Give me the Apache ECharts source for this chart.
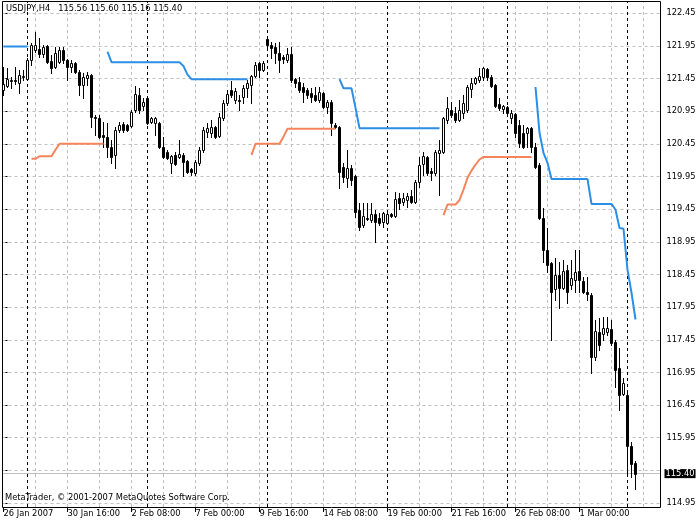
<!DOCTYPE html>
<html><head><meta charset="utf-8">
<script src="https://cdn.jsdelivr.net/npm/echarts@6/dist/echarts.min.js"></script>
<style>html,body{margin:0;padding:0;background:#fff}#c{width:700px;height:525px}</style>
</head><body><div id="c"></div>
<script>
const symbolTitle = 'USDJPY,H4   115.56 115.60 115.16 115.40';
const copyright = 'MetaTrader, \u00a9 2001-2007 MetaQuotes Software Corp.';
const timeLabels = ['26 Jan 2007','30 Jan 16:00','2 Feb 08:00','7 Feb 00:00','9 Feb 16:00','14 Feb 08:00','19 Feb 00:00','21 Feb 16:00','26 Feb 08:00','1 Mar 00:00'];
const timeLabelBars = [0,16,32,48,64,80,96,112,128,144];
const gridBars = [8,16,24,32,40,48,56,64,72,80,88,96,104,112,120,128,136,144,152,160];
const weekStartBars = [6,36,66,96,126,156];
const priceTicks = [114.95,115.45,115.95,116.45,116.95,117.45,117.95,118.45,118.95,119.45,119.95,120.45,120.95,121.45,121.95,122.45];
const priceLabels = [114.95,115.95,116.45,116.95,117.45,117.95,118.45,118.95,119.45,119.95,120.45,120.95,121.45,121.95,122.45];
const bidPrice = 115.40;

const opens = [121.28,121.34,121.43,121.43,121.38,121.48,121.44,121.74,121.89,121.90,121.83,121.95,121.72,121.63,121.71,121.89,121.74,121.63,121.69,121.55,121.35,121.46,121.51,120.86,120.85,120.59,120.56,120.40,120.28,120.66,120.76,120.74,120.73,120.97,121.20,121.03,121.15,120.79,120.77,120.77,120.40,120.33,120.16,120.28,120.25,120.28,120.19,120.07,120.01,120.16,120.36,120.63,120.62,120.71,120.57,120.85,121.08,121.28,121.12,121.12,121.17,121.31,121.35,121.49,121.69,121.58,122.06,121.97,121.93,121.84,121.78,121.74,121.83,121.44,121.40,121.32,121.28,121.23,121.20,121.12,121.23,121.02,121.09,120.74,120.71,120.10,119.93,120.08,119.95,119.44,119.21,119.32,119.29,119.38,119.32,119.26,119.24,119.38,119.35,119.62,119.56,119.59,119.65,119.56,119.87,120.14,120.25,120.04,120.01,120.31,120.33,120.82,120.97,120.92,120.82,120.92,120.97,121.29,121.38,121.43,121.48,121.60,121.48,121.35,121.06,120.99,121.02,120.85,120.91,120.74,120.62,120.62,120.69,120.40,120.13,119.32,118.83,118.63,118.22,118.44,118.25,118.52,118.29,118.37,118.51,118.35,118.18,118.14,117.19,117.57,117.54,117.57,117.62,117.42,117.01,116.62,116.61,115.83,115.56];
const highs = [121.63,121.61,121.48,121.63,121.58,121.58,121.77,122.00,122.16,122.07,121.97,121.97,121.81,121.93,121.93,121.93,121.75,121.74,121.71,121.58,121.54,121.55,121.52,120.89,120.89,120.79,120.77,120.51,120.71,120.79,120.79,120.76,120.97,121.34,121.31,121.15,121.17,120.86,120.86,120.79,120.56,120.36,120.28,120.33,120.51,120.31,120.21,120.08,120.21,120.40,120.71,120.77,120.82,120.73,120.92,121.12,121.28,121.41,121.31,121.20,121.35,121.43,121.51,121.71,121.71,121.72,122.07,122.01,122.00,122.01,121.81,121.92,121.93,121.46,121.48,121.38,121.31,121.31,121.32,121.32,121.25,121.12,121.12,120.77,120.73,120.16,120.36,120.13,119.98,119.55,119.55,119.55,119.55,119.44,119.39,119.41,119.39,119.39,119.72,119.70,119.70,119.70,119.75,119.90,120.25,120.33,120.27,120.08,120.36,120.51,120.86,121.17,121.09,121.02,121.12,121.20,121.35,121.46,121.48,121.61,121.63,121.61,121.51,121.37,121.15,121.05,121.03,120.97,120.92,120.82,120.74,120.71,120.71,120.46,120.16,119.47,119.16,118.64,118.70,118.64,118.67,118.60,118.67,118.83,118.83,118.41,118.41,118.17,117.76,117.79,117.80,117.80,117.76,117.45,117.33,116.87,116.64,115.89,115.60];
const lows = [121.20,121.32,121.31,121.37,121.23,121.43,121.43,121.66,121.86,121.78,121.78,121.69,121.54,121.61,121.69,121.69,121.43,121.55,121.54,121.20,121.15,121.35,120.71,120.59,120.54,120.40,120.25,120.16,120.08,120.63,120.63,120.65,120.71,120.94,120.92,120.97,120.76,120.77,120.59,120.39,120.24,120.22,120.01,120.13,120.24,119.95,120.01,119.98,119.98,120.13,120.33,120.56,120.56,120.54,120.56,120.82,121.05,121.17,121.08,120.97,121.08,121.17,121.08,121.48,121.48,121.57,121.93,121.77,121.69,121.55,121.69,121.71,121.40,121.32,121.25,121.09,121.15,121.09,121.11,121.09,121.00,120.92,120.59,120.70,119.78,119.87,119.79,119.82,119.33,119.13,119.18,119.29,119.26,118.95,119.21,119.18,119.24,119.33,119.33,119.45,119.52,119.49,119.55,119.55,119.79,119.98,119.98,119.90,119.98,119.67,120.31,120.77,120.86,120.79,120.80,120.85,120.94,121.17,121.37,121.40,121.43,121.43,121.32,121.02,120.97,120.92,120.89,120.77,120.56,120.40,120.39,120.40,120.33,120.08,119.30,118.64,118.49,117.45,118.06,117.94,118.22,118.02,118.22,118.18,118.18,118.17,118.06,116.94,117.14,117.30,117.45,117.53,117.37,116.72,116.38,116.61,115.41,115.35,115.16];
const closes = [121.37,121.44,121.41,121.41,121.51,121.49,121.74,121.97,121.97,121.83,121.93,121.71,121.61,121.84,121.89,121.74,121.63,121.69,121.55,121.35,121.48,121.51,120.86,120.85,120.56,120.56,120.40,120.25,120.66,120.74,120.66,120.66,120.94,121.21,120.97,121.09,120.77,120.85,120.85,120.40,120.25,120.24,120.27,120.14,120.30,120.17,120.02,120.02,120.17,120.36,120.66,120.69,120.71,120.56,120.86,121.08,121.21,121.20,121.26,121.11,121.31,121.38,121.49,121.66,121.58,121.69,121.97,121.92,121.84,121.74,121.75,121.83,121.43,121.38,121.28,121.25,121.20,121.17,121.12,121.25,121.02,121.09,120.77,120.71,120.02,119.94,120.08,119.90,119.41,119.18,119.35,119.30,119.38,119.26,119.24,119.39,119.38,119.35,119.61,119.55,119.62,119.65,119.56,119.87,120.13,120.27,120.01,120.01,120.33,120.36,120.85,121.00,120.89,120.82,120.97,121.08,121.32,121.38,121.46,121.49,121.61,121.48,121.34,121.03,121.00,121.03,120.92,120.92,120.62,120.47,120.40,120.69,120.40,120.10,119.32,118.83,118.60,118.18,118.44,118.25,118.51,118.18,118.40,118.49,118.37,118.18,118.15,117.19,117.59,117.37,117.63,117.63,117.40,116.99,116.61,116.79,115.83,115.54,115.40];

const blueStop = [121.94,121.94,121.94,121.94,121.94,121.94,121.94,
 null,null,null,null,null,null,null,null,null,null,null,null,null,null,null,null,null,null,null,
 121.86,121.70,121.70,121.70,121.70,121.70,121.70,121.70,121.70,121.70,121.70,121.70,121.70,121.70,121.70,121.70,121.70,121.70,121.70,121.64,121.51,121.44,121.44,121.44,121.44,121.44,121.44,121.44,121.44,121.44,121.44,121.44,121.44,121.44,121.44,121.44,
 null,null,null,null,null,null,null,null,null,null,null,null,null,null,null,null,null,null,null,null,null,null,
 121.44,121.30,121.30,121.30,121.00,120.69,120.69,120.69,120.69,120.69,120.69,120.69,120.69,120.69,120.69,120.69,120.69,120.69,120.69,120.69,120.69,120.69,120.69,120.69,120.69,120.69,
 null,null,null,null,null,null,null,null,null,null,null,null,null,null,null,null,null,null,null,null,null,null,null,
 121.32,120.62,120.31,120.16,119.91,119.91,119.91,119.91,119.91,119.91,119.91,119.91,119.91,119.91,119.53,119.53,119.53,119.53,119.53,119.53,119.44,119.16,119.15,118.52,118.17,117.76];
const orangeStop = [null,null,null,null,null,null,null,
 120.22,120.22,120.26,120.26,120.26,120.26,120.36,120.45,120.45,120.45,120.45,120.45,120.45,120.45,120.45,120.45,120.45,120.45,120.45,
 null,null,null,null,null,null,null,null,null,null,null,null,null,null,null,null,null,null,null,null,null,null,null,null,null,null,null,null,null,null,null,null,null,null,null,null,
 120.28,120.45,120.45,120.45,120.45,120.45,120.45,120.45,120.56,120.68,120.68,120.68,120.68,120.68,120.68,120.68,120.68,120.68,120.68,120.68,120.68,120.68,
 null,null,null,null,null,null,null,null,null,null,null,null,null,null,null,null,null,null,null,null,null,null,null,null,null,null,
 119.36,119.52,119.52,119.52,119.59,119.75,119.93,120.04,120.13,120.21,120.25,120.25,120.25,120.25,120.25,120.25,120.25,120.25,120.25,120.25,120.25,120.25,120.25,
 null,null,null,null,null,null,null,null,null,null,null,null,null,null,null,null,null,null,null,null,null,null,null,null,null,null];

const FONT = '"DejaVu Sans"';
const FS = 8.3;
const candleData = opens.map((o, i) => [i, o, highs[i], lows[i], closes[i]]);
const toPairs = arr => arr.map((v, i) => [i, v]);

function renderCandle(params, api) {
  const i = api.value(0), o = api.value(1), h = api.value(2), l = api.value(3), c = api.value(4);
  const pO = api.coord([i, o]), pC = api.coord([i, c]), pH = api.coord([i, h]), pL = api.coord([i, l]);
  const cx = Math.floor(pO[0]);
  const yH = Math.round(pH[1]), yL = Math.round(pL[1]);
  const yTop = Math.round(Math.min(pO[1], pC[1])), yBot = Math.round(Math.max(pO[1], pC[1]));
  const bull = c >= o;
  const children = [{type:'line', shape:{x1:cx+0.5, y1:yH, x2:cx+0.5, y2:yL+1}, style:{stroke:'#000', lineWidth:1}}];
  if (yBot - yTop < 1) {
    children.push({type:'line', shape:{x1:cx-1, y1:yTop+0.5, x2:cx+2, y2:yTop+0.5}, style:{stroke:'#000', lineWidth:1}});
  } else {
    children.push({type:'rect', shape:{x:cx-0.5, y:yTop+0.5, width:2, height:yBot-yTop}, style:{fill: bull ? '#fff' : '#000', stroke:'#000', lineWidth:1}});
  }
  return {type:'group', children};
}

const chart = echarts.init(document.getElementById('c'), null, {renderer:'canvas'});
chart.setOption({
  animation: false,
  backgroundColor: '#fff',
  textStyle: {fontFamily: FONT, fontSize: FS},
  grid: {left: 2.5, top: 2, width: 658, height: 505, show: false},
  xAxis: {
    type: 'value', min: -0.25, max: 164.25,
    axisLine: {show: false},
    splitLine: {show: false},
    axisTick: {show: true, length: 5, lineStyle: {color: '#000'}, customValues: timeLabelBars},
    axisLabel: {show: true, customValues: timeLabelBars, align: 'left', margin: 3, color: '#000', fontFamily: FONT, fontSize: FS,
      formatter: v => timeLabels[timeLabelBars.indexOf(Math.round(v))] || ''}
  },
  yAxis: {
    type: 'value', position: 'right', min: 114.889, max: 122.622, scale: true,
    axisLine: {show: false},
    splitLine: {show: false},
    axisTick: {show: true, length: 4, inside: false, lineStyle: {color: '#000'}, customValues: priceTicks},
    axisLabel: {show: true, customValues: priceLabels, margin: 6, color: '#000', fontFamily: FONT, fontSize: FS,
      formatter: v => v.toFixed(2)}
  },
  graphic: [
    {type: 'rect', z: 100, silent: true, shape: {x: 2.5, y: 1.5, width: 658, height: 506}, style: {fill: null, stroke: '#000', lineWidth: 1}},
    {type: 'text', z: 100, left: 6, top: 5, style: {text: symbolTitle, fill: '#000', font: FS + 'px ' + FONT}},
    {type: 'text', z: 100, left: 5, top: 494, style: {text: copyright, fill: '#000', font: FS + 'px ' + FONT}}
  ],
  series: [
    {
      type: 'line', name: 'grid', data: [], z: 1, silent: true,
      markLine: {
        silent: true, symbol: ['none','none'], animation: false, label: {show: false},
        lineStyle: {color: '#c0c0c0', width: 1, type: [3,3]},
        data: gridBars.map(b => ({xAxis: b})).concat(priceTicks.map(p => ({yAxis: p})))
      }
    },
    {
      type: 'line', name: 'weeks', data: [], z: 2, silent: true,
      markLine: {
        silent: true, symbol: ['none','none'], animation: false, label: {show: false},
        lineStyle: {color: '#000', width: 1, type: [3,3]},
        data: weekStartBars.map(b => ({xAxis: b}))
      }
    },
    {
      type: 'line', name: 'bid', data: [], z: 3, silent: true,
      markLine: {
        silent: true, symbol: ['none','none'], animation: false,
        lineStyle: {color: '#c0c0c0', width: 1, type: 'solid'},
        label: {show: true, position: 'end', distance: 4, formatter: bidPrice.toFixed(2), color: '#fff', backgroundColor: '#000',
          padding: [1, 1, 0, 1], fontFamily: FONT, fontSize: FS},
        data: [{yAxis: bidPrice}]
      }
    },
    {
      type: 'custom', name: 'USDJPY', z: 5, clip: true,
      renderItem: renderCandle,
      dimensions: ['bar','open','high','low','close'],
      encode: {x: 0, y: [1,2,3,4]},
      data: candleData
    },
    {
      type: 'line', name: 'stopUp', z: 6, data: toPairs(blueStop), showSymbol: false, connectNulls: false,
      lineStyle: {color: '#2b8fe8', width: 2}, itemStyle: {color: '#2b8fe8'}
    },
    {
      type: 'line', name: 'stopDown', z: 6, data: toPairs(orangeStop), showSymbol: false, connectNulls: false,
      lineStyle: {color: '#f5845c', width: 2}, itemStyle: {color: '#f5845c'}
    }
  ]
});
</script>
</body></html>
